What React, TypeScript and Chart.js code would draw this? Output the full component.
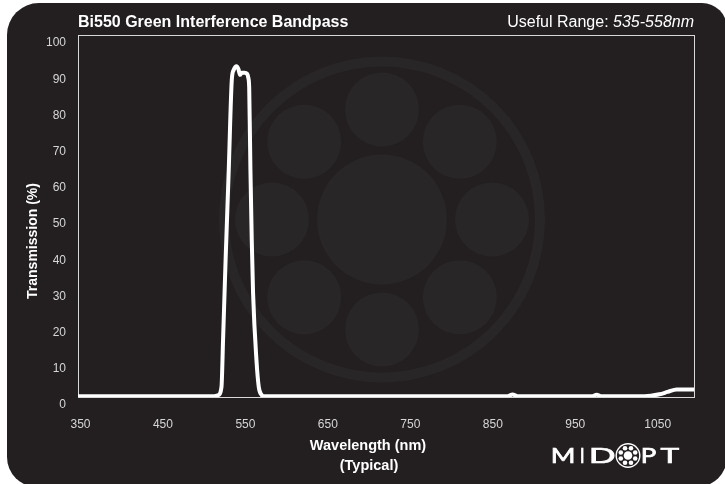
import React, { useEffect, useRef } from "react";
import { Chart, registerables } from "chart.js";

Chart.register(...registerables);

// ---- Data ----
const wavelengths = [
  347, 400, 450, 500, 512, 517, 521, 522.9, 526, 529.8, 533.5, 535.9, 539.2,
  541.5, 543.5, 545.5, 549, 552, 553.5, 554.6, 556.1, 557.7, 559.3, 563.4,
  566.2, 569.5, 572.3, 600, 700, 800, 868, 874, 880, 900, 970, 976, 982, 1000,
  1034, 1052, 1062, 1073, 1094,
];
const transmission = [
  0.2, 0.2, 0.2, 0.2, 0.2, 0.5, 2.8, 15.7, 38, 62.7, 87.6, 90.4, 91.4, 90.6,
  89.0, 89.6, 89.6, 89.3, 88.2, 85.5, 62.7, 43.4, 28.7, 10.2, 2.8, 0.6, 0.2,
  0.2, 0.2, 0.2, 0.2, 0.7, 0.2, 0.2, 0.2, 0.6, 0.2, 0.2, 0.2, 0.75, 1.4, 2.1,
  2.1,
];
const xTickValues = [350, 450, 550, 650, 750, 850, 950, 1050];
const yTickValues = [0, 10, 20, 30, 40, 50, 60, 70, 80, 90, 100];
const titleText = "Bi550 Green Interference Bandpass";
const rangeLabel = "Useful Range: ";
const rangeValue = "535-558nm";
const yTitle = "Transmission (%)";
const xTitleLines = ["Wavelength (nm)", "(Typical)"];
// logo letters with their [left, right] extents
const logoLetters: [string, number, number][] = [
  ["M", 552, 573.5],
  ["I", 580.5, 583],
  ["D", 590.5, 614],
  ["P", 642, 655.5],
  ["T", 660.5, 680],
];

const FONT = '"Liberation Sans", Arial, Helvetica, sans-serif';
const BG = "#231f20";

export default function App() {
  const ref = useRef<HTMLCanvasElement | null>(null);

  useEffect(() => {
    const canvas = ref.current;
    if (!canvas) return;

    const bgPlugin = {
      id: "cardBg",
      beforeDraw(chart: any) {
        const ctx = chart.ctx as CanvasRenderingContext2D;
        ctx.save();
        ctx.fillStyle = "#ffffff";
        ctx.fillRect(0, 0, chart.width, chart.height);
        ctx.fillStyle = BG;
        ctx.beginPath();
        (ctx as any).roundRect(7, 3, 720, 484, [32, 25, 30, 30]);
        ctx.fill();
        ctx.restore();
      },
      beforeDatasetsDraw(chart: any) {
        const ctx = chart.ctx as CanvasRenderingContext2D;
        const a = chart.chartArea;
        ctx.save();
        // watermark
        const cx = 382;
        const cy = 219.5;
        const wm = "#292627";
        ctx.strokeStyle = wm;
        ctx.lineWidth = 10;
        ctx.beginPath();
        ctx.arc(cx, cy, 158, 0, Math.PI * 2);
        ctx.stroke();
        ctx.fillStyle = wm;
        ctx.beginPath();
        ctx.arc(cx, cy, 65, 0, Math.PI * 2);
        ctx.fill();
        for (let i = 0; i < 8; i++) {
          const ang = (i * Math.PI) / 4;
          ctx.beginPath();
          ctx.arc(cx + 110 * Math.cos(ang), cy + 110 * Math.sin(ang), 37, 0, Math.PI * 2);
          ctx.fill();
        }
        // frame
        ctx.strokeStyle = "#d8d8d8";
        ctx.lineWidth = 1;
        ctx.strokeRect(Math.round(a.left) + 0.5, Math.round(a.top) + 0.5, Math.round(a.right - a.left), Math.round(a.bottom - a.top));
        ctx.restore();
      },
      afterDraw(chart: any) {
        const ctx = chart.ctx as CanvasRenderingContext2D;
        const a = chart.chartArea;
        ctx.save();
        ctx.fillStyle = "#ffffff";
        // title
        ctx.textBaseline = "alphabetic";
        ctx.font = `bold 16px ${FONT}`;
        ctx.textAlign = "left";
        ctx.fillText(titleText, a.left, 27);
        // useful range
        ctx.textAlign = "right";
        ctx.font = `italic 16px ${FONT}`;
        const wv = ctx.measureText(rangeValue).width;
        ctx.fillText(rangeValue, a.right, 27);
        ctx.font = `16px ${FONT}`;
        ctx.fillText(rangeLabel, a.right - wv, 27);
        // axis titles
        ctx.font = `bold 14.5px ${FONT}`;
        ctx.textAlign = "center";
        ctx.textBaseline = "middle";
        ctx.fillText(xTitleLines[0], 368, 446);
        ctx.fillText(xTitleLines[1], 369, 466);
        ctx.save();
        ctx.translate(33, 241);
        ctx.rotate(-Math.PI / 2);
        ctx.font = `bold 14px ${FONT}`;
        ctx.fillText(yTitle, 0, 0);
        ctx.restore();
        // logo
        ctx.textAlign = "left";
        ctx.textBaseline = "alphabetic";
        ctx.font = `400 21px Lato, "Noto Sans", sans-serif`;
        ctx.strokeStyle = "#ffffff";
        ctx.lineWidth = 0.7;
        logoLetters.forEach(([ch, x0, x1]) => {
          const m = ctx.measureText(ch);
          const gw = m.actualBoundingBoxRight + m.actualBoundingBoxLeft;
          const sx = (x1 - x0) / (gw || 1);
          ctx.save();
          ctx.translate(x0, 463);
          ctx.scale(sx, 1);
          ctx.fillText(ch, m.actualBoundingBoxLeft, 0);
          ctx.strokeText(ch, m.actualBoundingBoxLeft, 0);
          ctx.restore();
        });
        const gx = 628;
        const gy = 455.5;
        ctx.lineWidth = 1.4;
        ctx.beginPath();
        ctx.arc(gx, gy, 11.8, 0, Math.PI * 2);
        ctx.stroke();
        ctx.beginPath();
        ctx.arc(gx, gy, 4.3, 0, Math.PI * 2);
        ctx.fill();
        for (let i = 0; i < 8; i++) {
          const ang = (i * Math.PI) / 4 + Math.PI / 8;
          ctx.beginPath();
          ctx.arc(gx + 7.8 * Math.cos(ang), gy + 7.8 * Math.sin(ang), 2.3, 0, Math.PI * 2);
          ctx.fill();
        }
        ctx.restore();
      },
    };

    const chart = new Chart(canvas, {
      type: "line",
      data: {
        datasets: [
          {
            data: wavelengths.map((w, i) => ({ x: w, y: transmission[i] })),
            borderColor: "#ffffff",
            borderWidth: 4,
            pointRadius: 0,
            fill: false,
            cubicInterpolationMode: "monotone",
          },
        ],
      },
      options: {
        responsive: false,
        animation: false,
        devicePixelRatio: 1,
        layout: { padding: { top: 35, right: 31, left: 0, bottom: 0 } },
        plugins: {
          legend: { display: false },
          tooltip: { enabled: false },
          title: { display: false },
        },
        scales: {
          x: {
            type: "linear",
            min: 347,
            max: 1094,
            grid: { display: false, drawTicks: false },
            border: { display: false },
            afterBuildTicks: (scale: any) => {
              scale.ticks = xTickValues.map((v) => ({ value: v }));
            },
            afterFit: (scale: any) => {
              scale.height = 87;
            },
            ticks: {
              color: "#d6d6d6",
              font: { family: FONT, size: 12 },
              padding: 20,
              maxRotation: 0,
              autoSkip: false,
              callback: (v: any) => String(v),
            },
          },
          y: {
            type: "linear",
            min: 0,
            max: 100,
            grid: { display: false, drawTicks: false },
            border: { display: false },
            afterBuildTicks: (scale: any) => {
              scale.ticks = yTickValues.map((v) => ({ value: v }));
            },
            afterFit: (scale: any) => {
              scale.width = 78;
            },
            ticks: {
              color: "#d6d6d6",
              font: { family: FONT, size: 12 },
              padding: 12,
              labelOffset: 8,
              autoSkip: false,
              callback: (v: any) => String(v),
            },
          },
        },
      } as any,
      plugins: [bgPlugin as any],
    });

    return () => chart.destroy();
  }, []);

  return (
    <div style={{ position: "absolute", left: 0, top: 0, width: 725, height: 484 }}>
      <canvas ref={ref} width={725} height={484} style={{ display: "block", width: 725, height: 484 }} />
    </div>
  );
}
